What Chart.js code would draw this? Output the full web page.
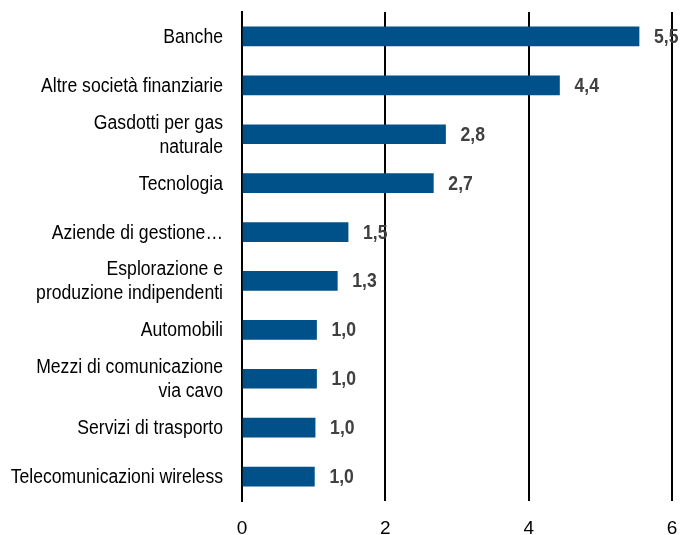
<!DOCTYPE html>
<html>
<head>
<meta charset="utf-8">
<script src="https://cdn.jsdelivr.net/npm/chart.js@4/dist/chart.umd.min.js"></script>
<style>
  html, body { margin: 0; padding: 0; background: #fff; }
  #wrap { width: 680px; height: 535px; }
</style>
</head>
<body>
<div id="wrap"><canvas id="draw-on-me"></canvas></div>
<script>
'use strict';

// categories (multi-line where the original wraps)
const sectors = [
    'Banche',
    'Altre società finanziarie',
    ['Gasdotti per gas', 'naturale'],
    'Tecnologia',
    'Aziende di gestione…',
    ['Esplorazione e', 'produzione indipendenti'],
    'Automobili',
    ['Mezzi di comunicazione', 'via cavo'],
    'Servizi di trasporto',
    'Telecomunicazioni wireless'
];
const values = [5.54, 4.43, 2.84, 2.67, 1.48, 1.33, 1.04, 1.04, 1.02, 1.01];
const xTicks = [0, 2, 4, 6];

const fontFamily = "'Liberation Sans', Arial, sans-serif";
const squeeze = 0.88; // the original uses a narrow font

// category names drawn squeezed, lined up with the y scale ticks
const narrowLabels = {
    id: 'narrowLabels',
    afterDraw (chart) {
        const ctx = chart.ctx;
        const yScale = chart.scales.y;
        const right = chart.chartArea.left - 19;
        ctx.save();
        ctx.font = '20px ' + fontFamily;
        ctx.fillStyle = '#000';
        ctx.textAlign = 'right';
        ctx.textBaseline = 'middle';
        sectors.forEach((name, i) => {
            const lines = Array.isArray(name) ? name : [name];
            const yMid = yScale.getPixelForTick(i);
            lines.forEach((line, j) => {
                const y = yMid + (j - (lines.length - 1) / 2) * 24 + 1;
                ctx.save();
                ctx.translate(right, y);
                ctx.scale(squeeze, 1);
                ctx.fillText(line, 0, 0);
                ctx.restore();
            });
        });
        ctx.restore();
    }
};

// draws the value next to each bar, e.g. "5,5"
const valueLabels = {
    id: 'valueLabels',
    afterDatasetsDraw (chart) {
        const ctx = chart.ctx;
        const meta = chart.getDatasetMeta(0);
        ctx.save();
        ctx.font = 'bold 20px ' + fontFamily;
        ctx.fillStyle = '#404040';
        ctx.textAlign = 'left';
        ctx.textBaseline = 'middle';
        meta.data.forEach((bar, i) => {
            const txt = values[i].toFixed(1).replace('.', ',');
            ctx.save();
            ctx.translate(bar.x + 15, bar.y + 1);
            ctx.scale(squeeze, 1);
            ctx.fillText(txt, 0, 0);
            ctx.restore();
        });
        ctx.restore();
    }
};

let canvasElement = document.getElementById('draw-on-me').getContext('2d');

new Chart(canvasElement, {
    type: 'bar',
    data: {
        labels: sectors,
        datasets: [{
            data: values,
            backgroundColor: '#00518a',
            borderWidth: 0,
            barThickness: 19
        }]
    },
    options: {
        indexAxis: 'y',
        responsive: true,
        maintainAspectRatio: false,
        animation: false,
        layout: { padding: { top: 12, right: 8, left: 0, bottom: 0 } },
        plugins: {
            legend: { display: false },
            tooltip: { enabled: false }
        },
        scales: {
            x: {
                min: 0,
                max: 6,
                afterBuildTicks (scale) {
                    scale.ticks = xTicks.map(v => ({ value: v }));
                },
                afterFit (scale) {
                    scale.height = 34;
                    scale.paddingLeft = 0;
                    scale.paddingRight = 0;
                },
                grid: {
                    color: '#000',
                    lineWidth: 2,
                    drawTicks: false
                },
                border: { display: false },
                ticks: {
                    color: '#000',
                    padding: 16,
                    font: { family: fontFamily, size: 19 }
                }
            },
            y: {
                afterFit (scale) {
                    scale.width = 242;
                    scale.paddingTop = 0;
                    scale.paddingBottom = 0;
                },
                grid: { display: false, drawTicks: false },
                border: { display: true, color: '#000', width: 2 },
                ticks: { display: false, autoSkip: false }
            }
        }
    },
    plugins: [valueLabels, narrowLabels]
});
</script>
</body>
</html>
